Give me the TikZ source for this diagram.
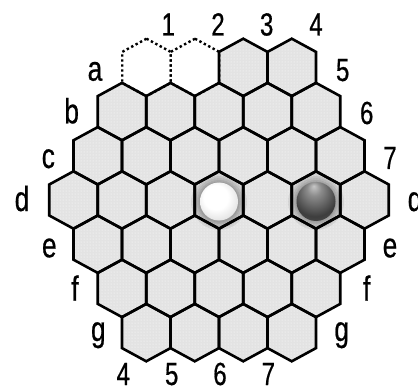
\documentclass[tikz,border=0pt]{standalone}
\usepackage{fontspec}
\setmainfont[FakeStretch=0.75,FakeBold=0.6]{Liberation Sans}
\usetikzlibrary{patterns}

\pgfdeclareradialshading{pedinabianca}{\pgfpoint{-6bp}{8bp}}{%
  color(0bp)=(white); color(16bp)=(white); color(34bp)=(black!15); color(50bp)=(black!32)}
\pgfdeclareradialshading{pedinanera}{\pgfpoint{-3bp}{20bp}}{%
  color(0bp)=(black!22); color(9bp)=(black!45); color(28bp)=(black!76); color(50bp)=(black!60)}

\newcommand{\esa}{++(0,28.7) -- ++(24.25,-13.2) -- ++(0,-31) -- ++(-24.25,-13.2) %
                  -- ++(-24.25,13.2) -- ++(0,31) -- cycle}

\tikzset{
  fondo/.style={fill=black!11, postaction={pattern=dots, pattern color=white}},
  bordo/.style={line width=2.6pt, line join=miter},
  vuoto/.style={line width=2.4pt, dash pattern=on 2.4pt off 2.6pt},
  numero/.style={anchor=base, inner sep=0pt, font=\fontsize{32}{36}\selectfont},
  lettera/.style={anchor=base, inner sep=0pt, font=\fontsize{35}{40}\selectfont},
  pedinab/.style={circle, minimum size=38pt, inner sep=0pt, shading=pedinabianca},
  pedinan/.style={circle, minimum size=39pt, inner sep=0pt, shading=pedinanera}
}

\begin{document}
\begin{tikzpicture}[x=1pt,y=1pt]
        \useasboundingbox (0,0) rectangle (418,389);
        %disegno esagoni
        \foreach \r/\n in {0/4,1/5,2/6,3/7,4/6,5/5,6/4}
          \foreach \k in {1,...,\n}{
            \pgfmathsetmacro{\cx}{219+(\k-(\n+1)/2)*48.5}
            \pgfmathsetmacro{\cy}{189+(3-\r)*44.2}
            \pgfmathtruncatemacro{\libero}{(\r==0)&&(\k<3)}
            \ifnum\libero=0
              \fill[fondo](\cx,\cy)\esa;
            \fi
          }
        %caselle mancanti
        \draw[vuoto](146.5,189+3*44.2)\esa;
        \draw[vuoto](195,189+3*44.2)\esa;
        %bordi
        \foreach \r/\n in {0/4,1/5,2/6,3/7,4/6,5/5,6/4}
          \foreach \k in {1,...,\n}{
            \pgfmathsetmacro{\cx}{219+(\k-(\n+1)/2)*48.5}
            \pgfmathsetmacro{\cy}{189+(3-\r)*44.2}
            \pgfmathtruncatemacro{\libero}{(\r==0)&&(\k<3)}
            \ifnum\libero=0
              \draw[bordo](\cx,\cy)\esa;
            \fi
          }
        %ombre pedine
        \foreach \x in {219,316}
          \foreach \rr in {28,26,24,22,20.5}
            \fill[black,opacity=0.07](\x,187)circle(\rr);
        %pedine
        \node[pedinab](bianca) at (219,187.5){};
        \node[pedinan](nera) at (316,187.5){};
        %label
        \node[numero](n1) at (168.3,353.5){1};
        \node[numero](n2) at (218,353.5){2};
        \node[numero](n3) at (266.7,353.5){3};
        \node[numero](n4) at (316,353.5){4};
        \node[numero](n5) at (342.7,308){5};
        \node[numero](n6) at (366.7,265){6};
        \node[numero](n7) at (390,220){7};
        \node[numero](s4) at (123.3,4){4};
        \node[numero](s5) at (171.7,4){5};
        \node[numero](s6) at (220,4){6};
        \node[numero](s7) at (268.3,4){7};
        \node[lettera](la) at (95,308.3){a};
        \node[lettera](lb) at (71.7,265.7){b};
        \node[lettera](lc) at (48.3,221){c};
        \node[lettera](ld) at (22,178){d};
        \node[lettera](le) at (49.3,131.7){e};
        \node[lettera](lf) at (75,88.3){f};
        \node[lettera](lg) at (98.3,48){g};
        \node[lettera](rd) at (415,178){d};
        \node[lettera](re) at (390,131.7){e};
        \node[lettera](rf) at (366.7,88.3){f};
        \node[lettera](rg) at (341.7,48){g};
    \end{tikzpicture}
\end{document}
